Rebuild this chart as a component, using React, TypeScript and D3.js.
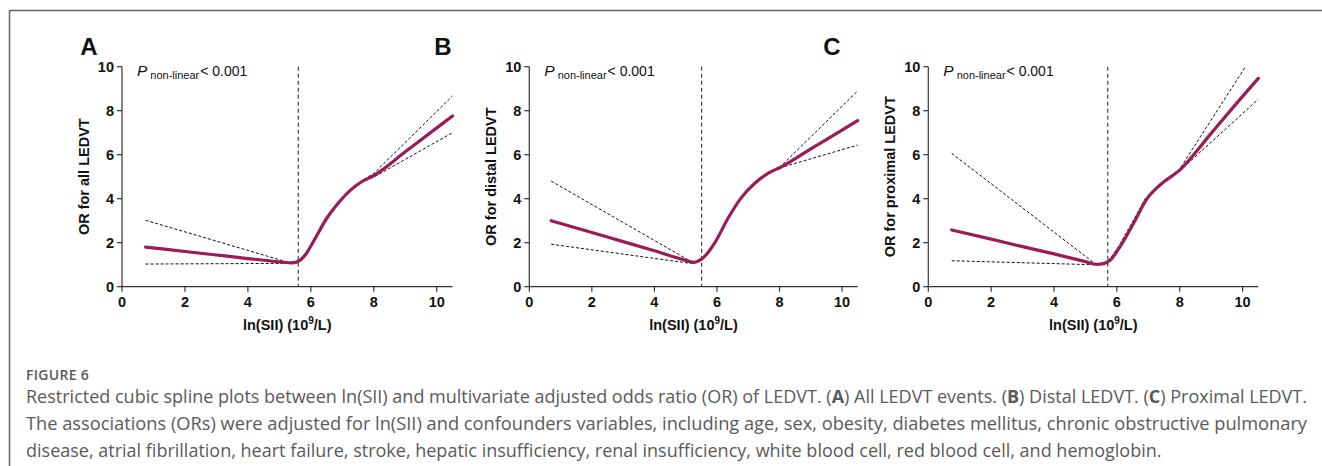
import React from 'react';
import * as d3 from 'd3';

type Pt = [number, number];

// panel titles / labels
const panelLetters = ['A', 'B', 'C'];
const yTitles = ['OR for all LEDVT', 'OR for distal LEDVT', 'OR for proximal LEDVT'];
const refLines = [5.6, 5.51, 5.71];
const xTicks = [0, 2, 4, 6, 8, 10];
const yTicks = [0, 2, 4, 6, 8, 10];

// A: all LEDVT
const allMid: Pt[] = [[0.75, 1.8], [2, 1.6], [3, 1.44], [4, 1.28], [5, 1.13], [5.4, 1.08], [5.65, 1.2], [5.85, 1.5], [6.1, 2.1], [6.5, 3.1], [6.9, 3.85], [7.25, 4.38], [7.6, 4.76], [8.0, 5.05], [9, 6.13], [10, 7.22], [10.5, 7.76]];
const allUp: Pt[] = [[0.75, 3.02], [5.3, 1.1], [5.45, 1.1], [5.65, 1.2], [5.85, 1.5], [6.1, 2.1], [6.5, 3.1], [6.9, 3.85], [7.25, 4.38], [7.6, 4.8], [8.0, 5.15], [10.5, 8.67]];
const allLow: Pt[] = [[0.75, 1.03], [5.2, 1.06], [5.45, 1.08], [5.65, 1.2], [5.85, 1.5], [6.1, 2.1], [6.5, 3.1], [6.9, 3.85], [7.25, 4.38], [7.6, 4.74], [8.0, 4.98], [10.5, 7.0]];

// B: distal LEDVT
const distMid: Pt[] = [[0.7, 3.0], [2, 2.46], [3, 2.05], [4, 1.63], [4.9, 1.24], [5.27, 1.11], [5.54, 1.29], [5.92, 1.97], [6.35, 3.1], [6.78, 4.05], [7.21, 4.7], [7.63, 5.15], [8.06, 5.45], [9, 6.26], [10, 7.12], [10.5, 7.55]];
const distUp: Pt[] = [[0.7, 4.8], [5.2, 1.12], [5.35, 1.14], [5.54, 1.29], [5.92, 1.97], [6.35, 3.1], [6.78, 4.05], [7.21, 4.7], [7.63, 5.17], [8.06, 5.5], [10.5, 8.9]];
const distLow: Pt[] = [[0.7, 1.93], [5.16, 1.06], [5.3, 1.1], [5.54, 1.29], [5.92, 1.97], [6.35, 3.1], [6.78, 4.05], [7.21, 4.7], [7.63, 5.13], [8.06, 5.42], [10.5, 6.44]];

// C: proximal LEDVT
const proxMid: Pt[] = [[0.745, 2.58], [2, 2.16], [3, 1.82], [4, 1.49], [5, 1.14], [5.36, 1.02], [5.6, 1.06], [5.79, 1.21], [6.1, 1.82], [6.53, 2.88], [6.95, 3.98], [7.37, 4.62], [8.0, 5.3], [9, 6.97], [10, 8.65], [10.5, 9.47]];
const proxUp: Pt[] = [[0.745, 6.06], [5.3, 1.05], [5.5, 1.04], [5.75, 1.2], [6.05, 1.82], [6.48, 2.9], [6.9, 4.0], [7.37, 4.68], [8.0, 5.35], [10.09, 10]];
const proxLow: Pt[] = [[0.745, 1.18], [5.47, 0.99], [5.6, 1.04], [5.79, 1.21], [6.1, 1.82], [6.53, 2.88], [6.95, 3.98], [7.37, 4.6], [8.0, 5.27], [10.5, 8.52]];

const mids = [allMid, distMid, proxMid];
const ups = [allUp, distUp, proxUp];
const lows = [allLow, distLow, proxLow];

// layout
const panelX = [122, 529.3, 928.3];
const panelW = [330.5, 328.4, 330];
const yTop = 66.7;
const yBot = 286.7;
const crimson = '#9b1b56';
const font = '"Liberation Sans", Arial, sans-serif';

const captionLines = [
  [
    { t: 'Restricted cubic spline plots between ln(SII) and multivariate adjusted odds ratio (OR) of LEDVT. (' },
    { t: 'A', b: true },
    { t: ') All LEDVT events. (' },
    { t: 'B', b: true },
    { t: ') Distal LEDVT. (' },
    { t: 'C', b: true },
    { t: ') Proximal LEDVT.' },
  ],
  [{ t: 'The associations (ORs) were adjusted for ln(SII) and confounders variables, including age, sex, obesity, diabetes mellitus, chronic obstructive pulmonary' }],
  [{ t: 'disease, atrial fibrillation, heart failure, stroke, hepatic insufficiency, renal insufficiency, white blood cell, red blood cell, and hemoglobin.' }],
];
const captionFit = [1281, 1281, 0];

function Panel({ i }: { i: number }) {
  const x0 = panelX[i];
  const x = d3.scaleLinear().domain([0, 10.5]).range([x0, x0 + panelW[i]]);
  const y = d3.scaleLinear().domain([0, 10]).range([yBot, yTop]);
  const smooth = d3.line<Pt>()
    .x(d => x(d[0]))
    .y(d => y(d[1]))
    .curve(d3.curveMonotoneX);
  const straight = d3.line<Pt>()
    .x(d => x(d[0]))
    .y(d => y(d[1]));
  const rx = x(refLines[i]);
  const tx = x0 - 33;
  const ty = (yTop + yBot) / 2;

  return (
    <g fontFamily={font}>
      <path d={straight(ups[i]) || ''} fill="none" stroke="#111" strokeWidth={1} strokeDasharray="3,2" />
      <path d={straight(lows[i]) || ''} fill="none" stroke="#111" strokeWidth={1} strokeDasharray="3,2" />
      <line x1={rx} x2={rx} y1={yTop} y2={yBot} stroke="#333" strokeWidth={1.1} strokeDasharray="4,3" />
      <path d={smooth(mids[i]) || ''} fill="none" stroke={crimson} strokeWidth={3.2} strokeLinecap="round" />

      {/* y axis */}
      <line x1={x0} x2={x0} y1={yTop} y2={yBot} stroke="#333" strokeWidth={1.2} />
      {yTicks.map(t => (
        <g key={'y' + t}>
          <line x1={x0 - 5} x2={x0} y1={y(t)} y2={y(t)} stroke="#333" strokeWidth={1.2} />
          <text x={x0 - 8} y={y(t)} dy="0.35em" textAnchor="end" fontSize={14.5} fontWeight="bold" fill="#111">{t}</text>
        </g>
      ))}
      {/* x axis */}
      <line x1={x0} x2={x0 + panelW[i]} y1={yBot} y2={yBot} stroke="#333" strokeWidth={1.2} />
      {xTicks.map(t => (
        <g key={'x' + t}>
          <line x1={x(t)} x2={x(t)} y1={yBot} y2={yBot + 5} stroke="#333" strokeWidth={1.2} />
          <text x={x(t)} y={yBot + 20} textAnchor="middle" fontSize={14.5} fontWeight="bold" fill="#111">{t}</text>
        </g>
      ))}
      <text x={x(5.25)} y={330} textAnchor="middle" fontSize={14.5} fontWeight="bold" fill="#111">
        ln(SII) (10<tspan dy={-6} fontSize={10}>9</tspan><tspan dy={6}>/L)</tspan>
      </text>
      <text transform={`translate(${tx},${ty}) rotate(-90)`} textAnchor="middle" fontSize={14.5} fontWeight="bold" fill="#111">
        {yTitles[i]}
      </text>
      <text x={x0 + 15} y={76} fontSize={15.5} fill="#111">
        <tspan fontStyle="italic">P</tspan>
        <tspan fontSize={11} dx={3} dy={3}>non-linear</tspan>
        <tspan fontSize={14} dx={1} dy={-3}>{'< 0.001'}</tspan>
      </text>
    </g>
  );
}

export default function App() {
  const letterX = [89, 443, 832];
  return (
    <svg width={1322} height={466} style={{ position: 'absolute', left: 0, top: 0, background: '#fff' }}>
      <rect x={0} y={0} width={1322} height={466} fill="#fff" />
      <line x1={9.5} x2={1322} y1={10.5} y2={10.5} stroke="#666" strokeWidth={1.5} />
      <line x1={9.5} x2={9.5} y1={10} y2={466} stroke="#666" strokeWidth={1.5} />
      {panelLetters.map((l, i) => (
        <text key={l} x={letterX[i]} y={55} textAnchor="middle" fontFamily={font} fontSize={24} fontWeight="bold" fill="#111">{l}</text>
      ))}
      {[0, 1, 2].map(i => <Panel key={i} i={i} />)}
      <text x={26} y={380} fontFamily='"Open Sans", sans-serif' fontSize={14} fontWeight={600} fill="#5a5a5a" letterSpacing={0.3}>FIGURE 6</text>
      {captionLines.map((ln, k) => (
        <text key={k} x={26} y={403 + k * 27} fontFamily='"Open Sans", sans-serif' fontSize={18} fill="#5a5a5a"
          textLength={captionFit[k] || undefined} lengthAdjust={captionFit[k] ? 'spacingAndGlyphs' : undefined}>
          {ln.map((s, j) => (
            <tspan key={j} fontWeight={s.b ? 'bold' : 'normal'}>{s.t}</tspan>
          ))}
        </text>
      ))}
    </svg>
  );
}
